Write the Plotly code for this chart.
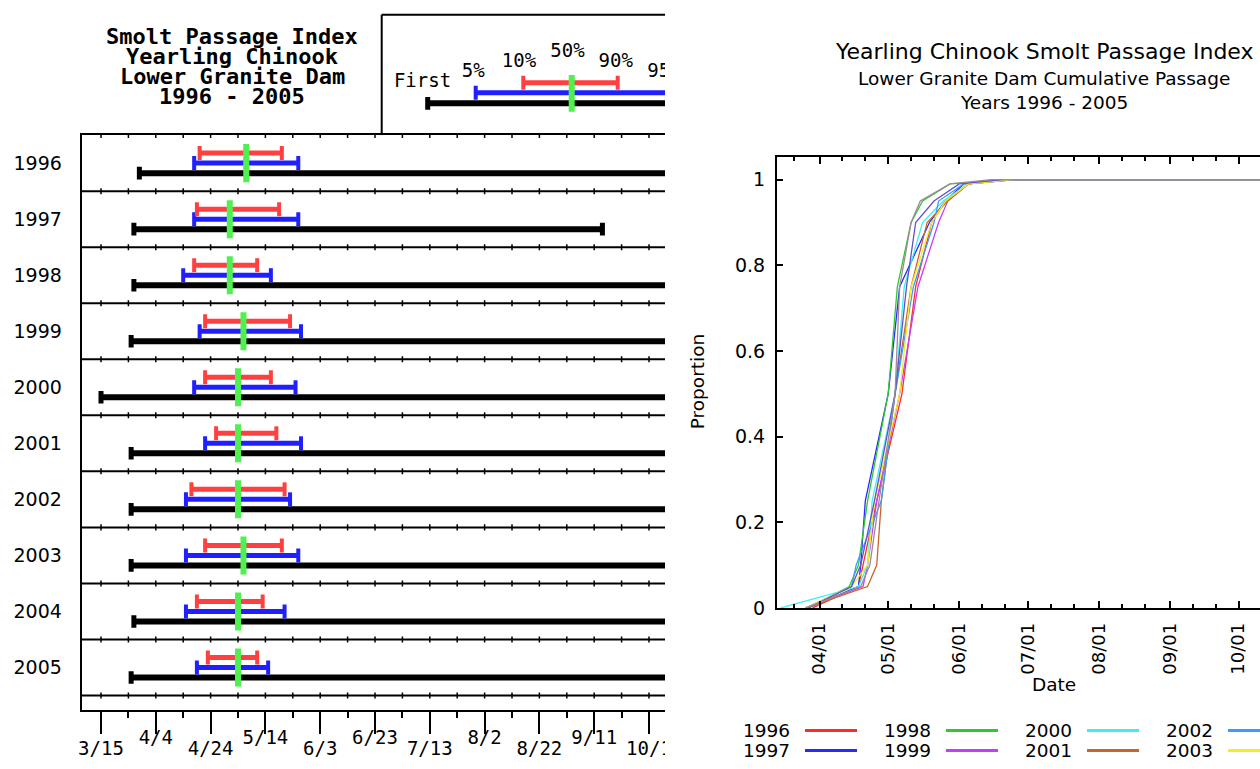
import plotly.graph_objects as go
from datetime import datetime, timedelta

W, H = 1260, 769
KY = 1 / 0.985   # compensates the slight vertical squeeze seen in the rendered page
REF = 2001       # common (non-leap) reference year used to overlay all seasons

# ---------------- data (month/day strings) ----------------
YEARS = [1996, 1997, 1998, 1999, 2000, 2001, 2002, 2003, 2004, 2005]
FIRST = ["3/29", "3/27", "3/27", "3/26", "3/15", "3/26", "3/26", "3/26", "3/27", "3/26"]
P05 = ["4/18", "4/18", "4/14", "4/20", "4/18", "4/22", "4/15", "4/15", "4/15", "4/19"]
P10 = ["4/20", "4/19", "4/18", "4/22", "4/22", "4/26", "4/17", "4/22", "4/19", "4/23"]
P50 = ["5/7", "5/1", "5/1", "5/6", "5/4", "5/4", "5/4", "5/6", "5/4", "5/4"]
P90 = ["5/20", "5/19", "5/11", "5/23", "5/16", "5/18", "5/21", "5/20", "5/13", "5/11"]
P95 = ["5/26", "5/26", "5/16", "5/27", "5/25", "5/27", "5/23", "5/26", "5/21", "5/15"]
LAST = ["10/31", "9/14", "10/31", "10/31", "10/31", "10/31", "10/31", "10/31", "10/31", "10/31"]

# additional points
P25 = ["4/26", "4/21", "4/22", "4/26", "4/24", "4/28", "4/28", "4/25", "4/25", "4/27"]
P75 = ["5/13", "5/6", "5/5", "5/14", "5/8", "5/11", "5/12", "5/11", "5/9", "5/6"]
P99 = ["6/5", "6/3", "5/28", "6/5", "6/5", "6/5", "6/3", "6/5", "6/1", "5/28"]
P100 = ["6/25", "6/20", "6/25", "6/25", "6/25", "6/25", "6/25", "6/25", "6/20", "6/15"]
CUM_LEVELS = [0.0, 0.05, 0.10, 0.25, 0.50, 0.75, 0.90, 0.95, 0.99, 1.0, 1.0]

AXIS_DATES = ["3/15", "4/4", "4/24", "5/14", "6/3", "6/23", "7/13", "8/2", "8/22", "9/11", "10/1"]
MONTH_TICKS = ["4/1", "5/1", "6/1", "7/1", "8/1", "9/1", "10/1"]
MONTH_LABELS = ["04/01", "05/01", "06/01", "07/01", "08/01", "09/01", "10/01"]
PROP_TICKS = [0, 0.2, 0.4, 0.6, 0.8, 1.0]
PROP_LABELS = ["0", "0.2", "0.4", "0.6", "0.8", "1"]
CURVE_COLORS = ["#ff2a2a", "#2a2aff", "#2ec82e", "#c63cff", "#3cf0f0",
                "#c8642e", "#3c9bff", "#f0f01e", "#6450c8", "#a08898"]

# ---------------- helpers ----------------
def ts(md):
    m, d = md.split("/")
    return datetime(REF, int(m), int(d))

def s(dt):
    return dt.strftime("%Y-%m-%d %H:%M:%S")

def px(x):
    return x / W

def py(y):
    return 1 - y * KY / H

Y_MAX = H / KY

# left panel axis calibration (pixels)
L_DAY0, L_X0, L_PPD = ts("3/15"), 101.0, 2.74
L_LEFT, L_RIGHT, L_TOP, L_BOT = 81.7, 665.0, 135.0, 709.0
ROW_H = 56.0
# right panel axis calibration
R_DAY0, R_X0, R_PPD = ts("4/1"), 819.5, 2.29
R_LEFT, R_TOP, R_BOT = 776.7, 156.7, 607.5
Y_PPU = 428.0

RED, BLUE, GREEN, BLACK = "#ff4040", "#2020ff", "#50f050", "#000000"
MONO = "DejaVu Sans Mono"
SANS = "DejaVu Sans"

fig = go.Figure()

# ---------------- left panel: passage bars ----------------
off = 10 / ROW_H
g_half = 19 / ROW_H

def seg_trace(starts, ends, yoff, color, width, cap_size, cap_w):
    xs, ys = [], []
    for i in range(len(YEARS)):
        xs += [s(ts(starts[i])), s(ts(ends[i])), None]
        ys += [i + yoff, i + yoff, None]
    return go.Scatter(x=xs, y=ys, mode="lines+markers", xaxis="x", yaxis="y",
                      line=dict(color=color, width=width),
                      marker=dict(symbol="line-ns", size=cap_size,
                                  line=dict(color=color, width=cap_w)),
                      hoverinfo="skip", cliponaxis=True)

fig.add_trace(seg_trace(FIRST, LAST, off, BLACK, 6, 9, 5))
fig.add_trace(seg_trace(P05, P95, 0, BLUE, 5, 10, 4))
fig.add_trace(seg_trace(P10, P90, -off, RED, 5, 10, 4))
gx, gy = [], []
for i in range(len(YEARS)):
    gx += [s(ts(P50[i])), s(ts(P50[i])), None]
    gy += [i - g_half, i + g_half, None]
fig.add_trace(go.Scatter(x=gx, y=gy, mode="lines", xaxis="x", yaxis="y",
                         line=dict(color=GREEN, width=6), hoverinfo="skip"))

# small ticks on every row separator (every 10 days)
tick_days = []
for md in AXIS_DATES:
    tick_days += [ts(md), ts(md) + timedelta(days=10)]
t_half = 3 / ROW_H
tx, ty = [], []
for b in range(len(YEARS)):
    yb = b + 0.5
    for t in tick_days:
        tx += [s(t), s(t), None]
        ty += [yb - t_half, yb + t_half, None]
for t in tick_days:
    tx += [s(t), s(t), None]
    ty += [-0.5, -0.5 + t_half, None]
fig.add_trace(go.Scatter(x=tx, y=ty, mode="lines", xaxis="x", yaxis="y",
                         line=dict(color=BLACK, width=1.5), hoverinfo="skip"))

# staggered date labels under the left axis (clipped at the panel's right edge)
lab_x = [s(ts(md)) for md in AXIS_DATES]
lab_y = [-750 if k % 2 == 0 else -739 for k in range(len(AXIS_DATES))]
fig.add_trace(go.Scatter(x=lab_x, y=lab_y, text=AXIS_DATES, mode="text", xaxis="x4", yaxis="y4",
                         textfont=dict(family=MONO, size=19, color=BLACK),
                         cliponaxis=True, hoverinfo="skip"))

# ---------------- key box ----------------
KEY_Y = {"red": 82.7, "blue": 92.7, "black": 103.3}
fig.add_trace(go.Scatter(x=[427.7, 720], y=[KEY_Y["black"]] * 2, mode="lines+markers",
                         xaxis="x3", yaxis="y3", line=dict(color=BLACK, width=6),
                         marker=dict(symbol="line-ns", size=9, line=dict(color=BLACK, width=5)),
                         hoverinfo="skip"))
fig.add_trace(go.Scatter(x=[475.7, 720], y=[KEY_Y["blue"]] * 2, mode="lines+markers",
                         xaxis="x3", yaxis="y3", line=dict(color=BLUE, width=5),
                         marker=dict(symbol="line-ns", size=10, line=dict(color=BLUE, width=4)),
                         hoverinfo="skip"))
fig.add_trace(go.Scatter(x=[523.3, 617.7], y=[KEY_Y["red"]] * 2, mode="lines+markers",
                         xaxis="x3", yaxis="y3", line=dict(color=RED, width=5),
                         marker=dict(symbol="line-ns", size=10, line=dict(color=RED, width=4)),
                         hoverinfo="skip"))
fig.add_trace(go.Scatter(x=[571.7, 571.7], y=[75, 111.7], mode="lines",
                         xaxis="x3", yaxis="y3", line=dict(color=GREEN, width=6), hoverinfo="skip"))
KEY_TEXT = ["First", "5%", "10%", "50%", "90%", "95%"]
fig.add_trace(go.Scatter(x=[422.5, 473.3, 519, 567.5, 615.8, 664.5],
                         y=[82.5, 72.5, 62.5, 52, 62, 72.5], text=KEY_TEXT, mode="text",
                         xaxis="x3", yaxis="y3", textfont=dict(family=MONO, size=19, color=BLACK),
                         cliponaxis=True, hoverinfo="skip"))

# ---------------- right panel: cumulative curves ----------------
for i, yr in enumerate(YEARS):
    pts = [FIRST[i], P05[i], P10[i], P25[i], P50[i], P75[i], P90[i], P95[i], P99[i], P100[i], LAST[i]]
    fig.add_trace(go.Scatter(x=[s(ts(p)) for p in pts], y=CUM_LEVELS, mode="lines",
                             xaxis="x2", yaxis="y2", name=str(yr),
                             line=dict(color=CURVE_COLORS[i], width=1.3)))

# ---------------- shapes ----------------
shapes = []
for b in range(len(YEARS)):
    shapes.append(dict(type="line", xref="x domain", yref="y", x0=0, x1=1, y0=b + 0.5, y1=b + 0.5,
                       line=dict(color=BLACK, width=2)))
shapes.append(dict(type="line", xref="paper", yref="paper", x0=px(381.7), x1=px(381.7),
                   y0=py(L_TOP), y1=py(14.7), line=dict(color=BLACK, width=2)))
shapes.append(dict(type="line", xref="paper", yref="paper", x0=px(381.7), x1=px(L_RIGHT),
                   y0=py(14.7), y1=py(14.7), line=dict(color=BLACK, width=2)))

annotations = []
# left title
for txt, yy in zip(["Smolt Passage Index", "Yearling Chinook", "Lower Granite Dam", "1996 - 2005"],
                   [36.5, 56.5, 76.5, 96.5]):
    annotations.append(dict(text=txt, x=px(232), y=py(yy), xref="paper", yref="paper",
                            xanchor="center", yanchor="middle", showarrow=False,
                            font=dict(family=MONO, size=22, color=BLACK, weight="bold")))
# right title
for txt, yy, fs in [("Yearling Chinook Smolt Passage Index", 51, 22),
                    ("Lower Granite Dam Cumulative Passage", 78.5, 18.5),
                    ("Years 1996 - 2005", 102, 18.5)]:
    annotations.append(dict(text=txt, x=px(1044), y=py(yy), xref="paper", yref="paper",
                            xanchor="center", yanchor="middle", showarrow=False,
                            font=dict(family=SANS, size=fs, color=BLACK)))
annotations.append(dict(text="Proportion", x=px(697), y=py(382), xref="paper", yref="paper",
                        textangle=-90, showarrow=False, xanchor="center", yanchor="middle",
                        font=dict(family=SANS, size=18.5, color=BLACK)))
annotations.append(dict(text="Date", x=px(1054), y=py(684), xref="paper", yref="paper",
                        showarrow=False, xanchor="center", yanchor="middle",
                        font=dict(family=SANS, size=18.5, color=BLACK)))
# right legend (entries whose label falls past the picture edge are not drawn)
LEG_ROW_Y = [730, 750]
for i, yr in enumerate(YEARS):
    c, r = i // 2, i % 2
    x_text = 792 + 141 * c
    if x_text > W:
        continue
    yy = LEG_ROW_Y[r]
    annotations.append(dict(text=str(yr), x=px(x_text), y=py(yy), xref="paper", yref="paper",
                            xanchor="right", yanchor="middle", showarrow=False,
                            font=dict(family=SANS, size=18.5, color=BLACK)))
    shapes.append(dict(type="line", xref="paper", yref="paper",
                       x0=px(805 + 141 * c), x1=px(857 + 141 * c), y0=py(yy), y1=py(yy),
                       line=dict(color=CURVE_COLORS[i], width=3)))

# ---------------- axes ----------------
def lday(pxx):
    return s(L_DAY0 + timedelta(days=(pxx - L_X0) / L_PPD))

left_range = [lday(L_LEFT), lday(L_RIGHT)]
right_range = [s(R_DAY0 + timedelta(days=(R_LEFT - R_X0) / R_PPD)),
               s(R_DAY0 + timedelta(days=(W - R_X0) / R_PPD))]
minor_left = [s(ts(md) + timedelta(days=10)) for md in AXIS_DATES]
minor_right = []
for md in ["3/1"] + MONTH_TICKS:
    minor_right += [s(ts(md) + timedelta(days=10)), s(ts(md) + timedelta(days=20))]

fig.update_layout(
    width=W, height=H, margin=dict(l=0, r=0, t=0, b=0),
    paper_bgcolor="white", plot_bgcolor="white", showlegend=False,
    shapes=shapes, annotations=annotations,
    xaxis=dict(domain=[px(L_LEFT), px(L_RIGHT)], anchor="y", type="date", range=left_range,
               tickmode="array", tickvals=[s(ts(md)) for md in AXIS_DATES], showticklabels=False,
               ticks="outside", ticklen=22, tickwidth=2, tickcolor=BLACK,
               showline=True, linewidth=2, linecolor=BLACK, mirror=True,
               showgrid=False, zeroline=False,
               minor=dict(tickmode="array", tickvals=minor_left, ticks="outside", ticklen=6,
                          tickwidth=2, tickcolor=BLACK, showgrid=False)),
    yaxis=dict(domain=[py(L_BOT), py(L_TOP)], anchor="x",
               range=[(L_BOT - L_TOP) / ROW_H - 0.5, -0.5],
               tickmode="array", tickvals=list(range(len(YEARS))), ticktext=[str(y) for y in YEARS],
               ticks="", showline=True, linewidth=2, linecolor=BLACK, showgrid=False, zeroline=False,
               tickfont=dict(family=SANS, size=19, color=BLACK), ticklabelstandoff=14),
    xaxis2=dict(domain=[px(R_LEFT), 1.0], anchor="y2", type="date", range=right_range,
                tickmode="array", tickvals=[s(ts(md)) for md in MONTH_TICKS], ticktext=MONTH_LABELS,
                tickangle=-90, ticks="inside", ticklen=7, tickwidth=1.5, tickcolor=BLACK,
                showline=True, linewidth=1.5, linecolor=BLACK, mirror="ticks",
                showgrid=False, zeroline=False, ticklabelstandoff=6,
                tickfont=dict(family=SANS, size=18, color=BLACK),
                minor=dict(tickmode="array", tickvals=minor_right, ticks="inside", ticklen=4,
                           tickwidth=1.5, tickcolor=BLACK, showgrid=False)),
    yaxis2=dict(domain=[py(R_BOT), py(R_TOP)], anchor="x2",
                range=[0, (R_BOT - R_TOP) / Y_PPU],
                tickmode="array", tickvals=PROP_TICKS, ticktext=PROP_LABELS,
                ticks="inside", ticklen=7, tickwidth=1.5, tickcolor=BLACK,
                showline=True, linewidth=1.5, linecolor=BLACK, mirror=False,
                showgrid=False, zeroline=False, ticklabelstandoff=6,
                tickfont=dict(family=SANS, size=19, color=BLACK)),
    xaxis3=dict(domain=[px(381.7), px(L_RIGHT)], anchor="y3", range=[381.7, L_RIGHT], visible=False),
    yaxis3=dict(domain=[py(L_TOP), py(14.7)], anchor="x3", range=[L_TOP, 14.7], visible=False),
    xaxis4=dict(domain=[0, px(L_RIGHT)], anchor="y4", type="date",
                range=[lday(0), lday(L_RIGHT)], visible=False),
    yaxis4=dict(domain=[0, py(712)], anchor="x4", range=[-Y_MAX, -712], visible=False),
)

fig.write_html("out.html", config={"displayModeBar": False})
